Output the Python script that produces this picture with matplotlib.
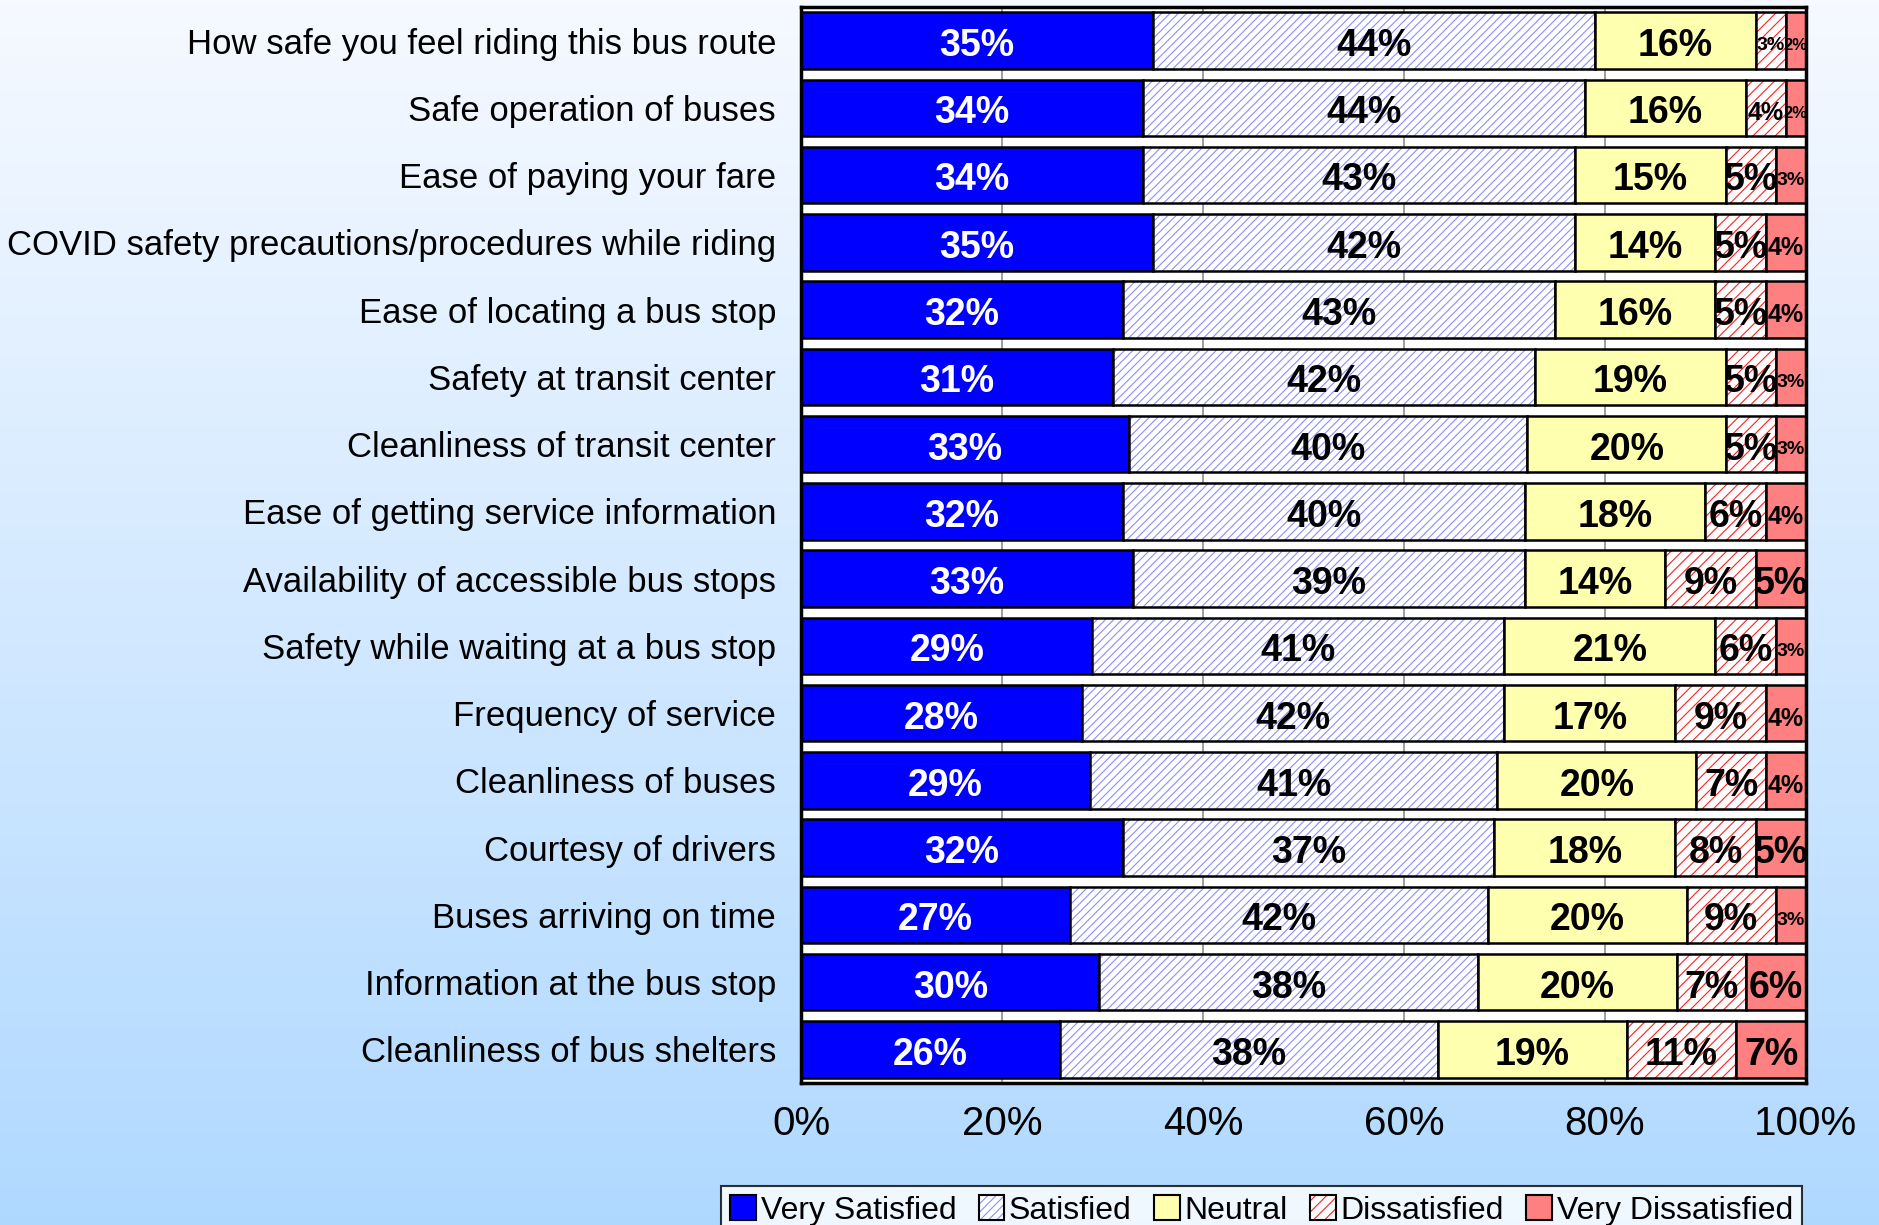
import numpy as np
import matplotlib.pyplot as plt
from matplotlib.patches import Patch

plt.rcParams['font.family'] = ['Liberation Sans', 'DejaVu Sans']
plt.rcParams['hatch.linewidth'] = 0.8

# survey items, top to bottom
items = [
    "How safe you feel riding this bus route",
    "Safe operation of buses",
    "Ease of paying your fare",
    "COVID safety precautions/procedures while riding",
    "Ease of locating a bus stop",
    "Safety at transit center",
    "Cleanliness of transit center",
    "Ease of getting service information",
    "Availability of accessible bus stops",
    "Safety while waiting at a bus stop",
    "Frequency of service",
    "Cleanliness of buses",
    "Courtesy of drivers",
    "Buses arriving on time",
    "Information at the bus stop",
    "Cleanliness of bus shelters",
]

very_satisfied = [35, 34, 34, 35, 32, 31, 33, 32, 33, 29, 28, 29, 32, 27, 30, 26]
satisfied = [44, 44, 43, 42, 43, 42, 40, 40, 39, 41, 42, 41, 37, 42, 38, 38]
neutral = [16, 16, 15, 14, 16, 19, 20, 18, 14, 21, 17, 20, 18, 20, 20, 19]
dissatisfied = [3, 4, 5, 5, 5, 5, 5, 6, 9, 6, 9, 7, 8, 9, 7, 11]
very_dissatisfied = [2, 2, 3, 4, 4, 3, 3, 4, 5, 3, 4, 4, 5, 3, 6, 7]

series_names = ["Very Satisfied", "Satisfied", "Neutral", "Dissatisfied", "Very Dissatisfied"]
tick_labels = ["0%", "20%", "40%", "60%", "80%", "100%"]

series = [very_satisfied, satisfied, neutral, dissatisfied, very_dissatisfied]
# face colour, hatch, hatch colour, label colour
styles = [
    ("#0000ff", None, "#0000ff", "white"),
    ("white", "////", "#8c8cff", "black"),
    ("#ffffb0", None, "#ffffb0", "black"),
    ("white", "///", "#ff2020", "black"),
    ("#ff8080", None, "#ff8080", "black"),
]

data = np.array(series, dtype=float)
shares = data / data.sum(axis=0) * 100  # 100% stacked
y = np.arange(len(items))

fig = plt.figure(figsize=(18.79, 12.25), dpi=100)

# background gradient
bg = fig.add_axes([0, 0, 1, 1])
top = np.array([0.965, 0.978, 1.0])
bot = np.array([0.69, 0.85, 1.0])
t = np.linspace(0, 1, 256)[:, None]
grad = (top * (1 - t) + bot * t)[:, None, :]
bg.imshow(grad, aspect='auto', extent=[0, 1, 0, 1])
bg.axis('off')

ax = fig.add_axes([0.4263, 0.1159, 0.5348, 0.8784])
ax.set_facecolor('white')
ax.set_axisbelow(True)
ax.xaxis.grid(True, color='#8c8c8c', lw=1.2)

bar_h = 0.84
left = np.zeros(len(items))
for vals, share, (face, hatch, hcol, tcol) in zip(series, shares, styles):
    ax.barh(y, share, left=left, height=bar_h, color=face, hatch=hatch,
            edgecolor=hcol, linewidth=0)
    ax.barh(y, share, left=left, height=bar_h, fill=False,
            edgecolor='black', linewidth=1.8)
    for yi, v, s, l in zip(y, vals, share, left):
        # small segments get smaller labels
        fs = 27 if v >= 5 else {2: 12, 3: 14, 4: 18}.get(v, 27)
        ax.text(l + s / 2, yi + 0.08, f"{v}%", ha='center', va='center',
                fontsize=fs, fontweight='bold', color=tcol)
    left += share

ax.set_xlim(0, 100)
ax.set_ylim(len(items) - 0.5, -0.5)
ax.set_xticks(np.arange(0, 101, 20))
ax.set_xticklabels(tick_labels, fontsize=29)
ax.set_yticks(y)
ax.set_yticklabels(items, fontsize=25)
ax.tick_params(axis='x', length=0, pad=16)
ax.tick_params(axis='y', length=0, pad=18)
for sp in ax.spines.values():
    sp.set_linewidth(2.5)
    sp.set_color('black')

handles = []
for face, hatch, hcol, tcol in styles:
    handles.append((Patch(facecolor=face, hatch=hatch, edgecolor=hcol, linewidth=0),
                    Patch(fill=False, edgecolor='black', linewidth=1.5)))
leg = fig.legend(handles, series_names, loc='upper center', bbox_to_anchor=(0.6714, 0.032),
                 ncol=5, fontsize=23, frameon=True, fancybox=False,
                 handlelength=0.8, handleheight=0.8, handletextpad=0.15,
                 columnspacing=0.7, borderpad=0.3, borderaxespad=0)
leg.get_frame().set_edgecolor('black')
leg.get_frame().set_linewidth(1.5)

fig.savefig("out.png", dpi=100)
